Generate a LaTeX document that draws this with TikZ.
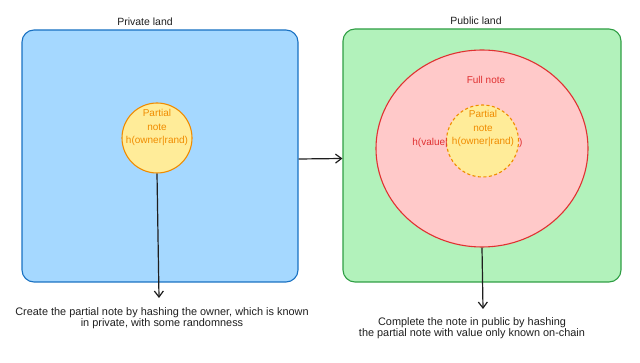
\documentclass[tikz,border=0pt]{standalone}
\usepackage{fontspec}
\setmainfont{Liberation Sans}
\usetikzlibrary{arrows.meta,shapes.geometric}
\definecolor{bluefill}{HTML}{A5D8FF}
\definecolor{bluestroke}{HTML}{1971C2}
\definecolor{greenfill}{HTML}{B2F2BB}
\definecolor{greenstroke}{HTML}{2F9E44}
\definecolor{redfill}{HTML}{FFC9C9}
\definecolor{redstroke}{HTML}{E03131}
\definecolor{yellowfill}{HTML}{FFEC99}
\definecolor{orangestroke}{HTML}{F08C00}
\definecolor{ink}{HTML}{1E1E1E}
\begin{document}
\begin{tikzpicture}[x=1pt,y=-1pt,
  landbox/.style={rectangle, rounded corners=12pt, line width=1.1pt, inner sep=0pt},
  notecircle/.style={circle, inner sep=0pt, fill=yellowfill, draw=orangestroke, line width=1.1pt},
  txt/.style={font=\fontsize{10}{13.5}\selectfont, align=center, inner sep=0pt, text=ink},
  captxt/.style={txt, font=\fontsize{10.9}{11}\selectfont},
  arr/.style={draw=ink, line width=1.2pt, -{Straight Barb[length=6pt,width=9pt]}}]
\useasboundingbox (0,0) rectangle (640,363);
% boxes
\node[landbox, fill=bluefill, draw=bluestroke, minimum width=276pt, minimum height=252pt] (private) at (160,156) {};
\node[landbox, fill=greenfill, draw=greenstroke, minimum width=278pt, minimum height=253pt] (public) at (482,155.5) {};
% titles
\node[txt, font=\fontsize{10.5}{13}\selectfont] (ptitle) at (145,22) {Private land};
\node[txt, font=\fontsize{10.5}{13}\selectfont] (qtitle) at (476,21) {Public land};
% left partial note
\node[notecircle, minimum size=70pt] (partialL) at (157,138) {};
\node[txt, text=orangestroke] (partialLtxt) at (157,127.5) {Partial\\note\\h(owner|rand)};
% full note
\node[ellipse, inner sep=0pt, fill=redfill, draw=redstroke, line width=1.1pt, minimum width=212pt, minimum height=197pt] (full) at (482,148.5) {};
\node[txt, text=redstroke] (fulltxt) at (486,80) {Full note};
\node[notecircle, dashed, dash pattern=on 3pt off 2.5pt, minimum size=72pt] (partialR) at (482.5,141) {};
\node[txt, text=orangestroke] (partialRtxt) at (483,128.5) {Partial\\note\\h(owner|rand)};
\node[txt, text=redstroke, anchor=base east] (hval) at (448,146) {h(value|};
\node[txt, text=redstroke, anchor=base west] (hclose) at (519,146) {)};
% connectors
\draw[arr] ([yshift=-3pt]private.east) -- ([yshift=-3pt]public.west);
\coordinate (endL) at (159,298);
\coordinate (endR) at (483,309);
\draw[arr] (partialL.south) -- (endL);
\draw[arr] (full.south) -- (endR);
% captions
\node[captxt] (capL) at (162,318) {Create the partial note by hashing the owner, which is known\\in private, with some randomness};
\node[captxt] (capR) at (472,328.5) {Complete the note in public by hashing\\the partial note with value only known on-chain};
\end{tikzpicture}
\end{document}
